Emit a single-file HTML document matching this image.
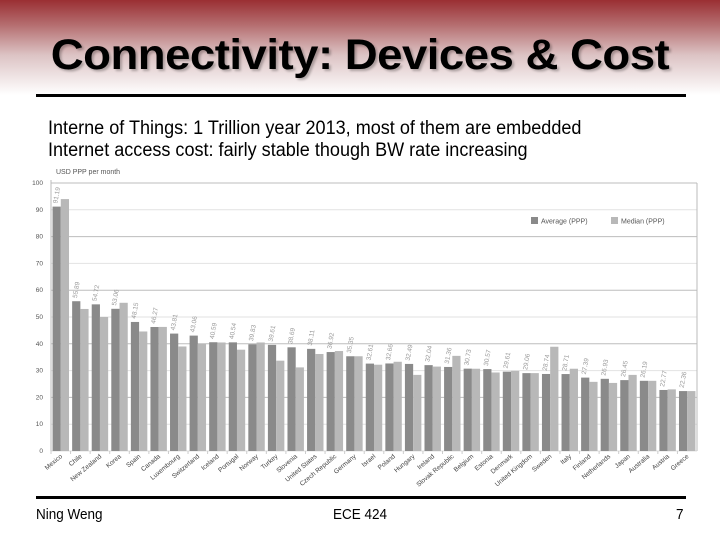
<!DOCTYPE html>
<html><head><meta charset="utf-8"><style>
html,body{margin:0;padding:0;background:#fff}
#slide{position:relative;width:720px;height:540px;overflow:hidden;font-family:"Liberation Sans",sans-serif;background:#fff}
#hdr{position:absolute;left:0;top:0;width:720px;height:100px;background:linear-gradient(#9a2f33 0%,#b56e70 25%,#dcc3c4 55%,#ffffff 95%)}
#title{position:absolute;left:0;top:31px;width:720px;text-align:center;font-size:43px;font-weight:bold;color:#000;letter-spacing:-0.5px;transform:scaleX(1.06);text-shadow:2px 2px 2px rgba(0,0,0,0.25)}
.rule{position:absolute;left:36px;width:650px;height:3px;background:#000}
.body{position:absolute;left:48px;font-size:19px;color:#000;transform-origin:left;transform:scaleX(0.95);white-space:nowrap}
.foot{position:absolute;top:506px;font-size:15px;color:#000;transform:scaleX(0.9);transform-origin:left}
svg{position:absolute;left:0;top:0}
</style></head><body>
<div id="slide">
<div id="hdr"></div>
<div id="title">Connectivity: Devices &amp; Cost</div>
<div class="rule" style="top:94px"></div>
<div class="body" style="top:118px">Interne of Things: 1 Trillion year 2013, most of them are embedded</div>
<div class="body" style="top:140px">Internet access cost: fairly stable though BW rate increasing</div>
<svg id="chart" width="720" height="540"></svg>
<div class="rule" style="top:496px"></div>
<div class="foot" style="left:36px">Ning Weng</div>
<div class="foot" style="left:333px">ECE 424</div>
<div class="foot" style="left:676px">7</div>
</div>
<script>
const countries=["Mexico","Chile","New Zealand","Korea","Spain","Canada","Luxembourg","Switzerland","Iceland","Portugal","Norway","Turkey","Slovenia","United States","Czech Republic","Germany","Israel","Poland","Hungary","Ireland","Slovak Republic","Belgium","Estonia","Denmark","United Kingdom","Sweden","Italy","Finland","Netherlands","Japan","Australia","Austria","Greece"];
const averageVals=[91.19,55.89,54.72,53.06,48.15,46.27,43.81,43.06,40.59,40.54,39.83,39.61,38.69,38.11,36.92,35.35,32.61,32.66,32.49,32.04,31.36,30.73,30.57,29.61,29.06,28.74,28.71,27.39,26.93,26.45,26.19,22.77,22.36];
const medianVals=[94,53,50,55.3,44.6,46.3,39,40,40.5,37.8,40.5,33.7,31.2,36.2,37.3,35.35,32.2,33.3,28.4,31.5,35.5,30.7,29.3,29.9,29.06,38.9,30.7,25.8,25.4,28.4,26.19,23,22.36];
const yTicks=[0,10,20,30,40,50,60,70,80,90,100];
const NS="http://www.w3.org/2000/svg";
const svg=document.getElementById('chart');
const X0=51,X1=697,Y0=451,Y1=183;
const band=(X1-X0)/countries.length;
const y=v=>Y0-(v/100)*(Y0-Y1);
const xb=i=>X0+i*band;
function mk(t,a){const e=document.createElementNS(NS,t);for(const k in a)e.setAttribute(k,a[k]);svg.appendChild(e);return e;}
yTicks.forEach(t=>{
 const g=mk('line',{x1:X0,x2:X1,y1:y(t),y2:y(t),stroke:t%20===0&&t>0?'#bdbdbd':'#e2e2e2','stroke-width':1});
 
 
 const l=mk('text',{x:43,y:y(t)+2,'font-size':6.5,'text-anchor':'end',fill:'#555'});l.textContent=t;
 
 
});
const ax=mk('line',{x1:X0,x2:X0,y1:Y1-3,y2:Y0,stroke:'#bbb'});


const rb=mk('line',{x1:X1,x2:X1,y1:Y1,y2:Y0,stroke:'#bbb'});


const ut=mk('text',{x:56,y:174,'font-size':7,fill:'#555'});ut.textContent='USD PPP per month';


countries.forEach((c,i)=>{
 const bx=xb(i)+band*0.08, bw=band*0.42;
 const a=mk('rect',{x:bx,y:y(averageVals[i]),width:bw,height:Y0-y(averageVals[i]),fill:'#8a8a8a'});
 
 
 const m=mk('rect',{x:bx+bw,y:y(medianVals[i]),width:bw,height:Y0-y(medianVals[i]),fill:'#b8b8b8'});
 
 
 const tx=xb(i)+band*0.32, ty=y(averageVals[i])-3;
 const v=mk('text',{x:tx,y:ty,'font-size':6.5,fill:'#999',transform:`rotate(-80 ${tx} ${ty})`});v.textContent=averageVals[i].toFixed(2);
 
 
 const cx=xb(i)+band*0.5+2, cy=Y0+6;
 const cl=mk('text',{x:cx,y:cy,'font-size':6.5,fill:'#444','text-anchor':'end',transform:`rotate(-40 ${cx} ${cy})`});cl.textContent=c;
 
 
 const tk=mk('line',{x1:xb(i),x2:xb(i),y1:Y0,y2:Y0+3,stroke:'#ccc'});
 
 
});
const l1=mk('rect',{x:531,y:217,width:7,height:7,fill:'#8a8a8a'});


const t1=mk('text',{x:541,y:223.5,'font-size':7,fill:'#555'});t1.textContent='Average (PPP)';


const l2=mk('rect',{x:611,y:217,width:7,height:7,fill:'#b8b8b8'});


const t2=mk('text',{x:621,y:223.5,'font-size':7,fill:'#555'});t2.textContent='Median (PPP)';


</script>
</body></html>
